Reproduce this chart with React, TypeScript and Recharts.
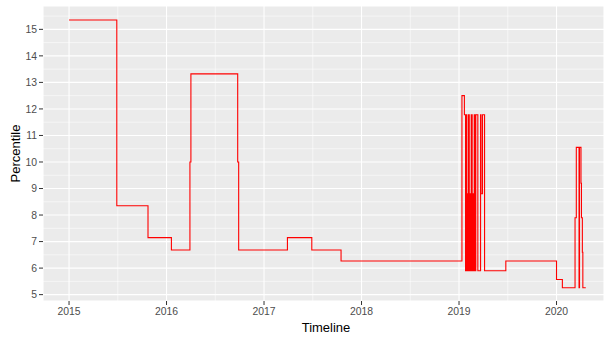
import { LineChart, Line, XAxis, YAxis, CartesianGrid, ReferenceLine } from "recharts";

// decimal year of each change in percentile (step series)
const dates = [
  2015.0, 2015.49, 2015.81, 2016.05, 2016.24, 2016.25, 2016.73, 2016.74,
  2017.24, 2017.49, 2017.79,
  2019.03, 2019.055, 2019.067, 2019.075, 2019.08, 2019.085, 2019.09, 2019.097,
  2019.105, 2019.11, 2019.115, 2019.125, 2019.135, 2019.142, 2019.15, 2019.156,
  2019.165, 2019.172, 2019.193, 2019.221, 2019.226, 2019.241, 2019.262,
  2019.48, 2020.0, 2020.06,
  2020.19, 2020.203, 2020.231, 2020.236, 2020.251, 2020.256, 2020.265, 2020.27, 2020.3,
];
const percentile = [
  15.35, 8.35, 7.15, 6.68, 10.0, 13.32, 10.0, 6.68,
  7.15, 6.68, 6.27,
  12.5, 11.78, 5.9, 11.78, 5.9, 8.8, 5.9, 11.78,
  5.9, 8.8, 5.9, 11.78, 5.9, 8.8, 5.9, 11.78,
  5.9, 11.78, 5.9, 11.78, 8.8, 11.78, 5.9,
  6.27, 5.57, 5.26,
  7.9, 10.55, 5.26, 10.55, 9.2, 7.9, 6.6, 5.26, 5.26,
];

const yearTicks = [2015, 2016, 2017, 2018, 2019, 2020];
const percentileTicks = [5, 6, 7, 8, 9, 10, 11, 12, 13, 14, 15];
const minorYears = [2015.5, 2016.5, 2017.5, 2018.5, 2019.5];
const minorPercentiles = [5.5, 6.5, 7.5, 8.5, 9.5, 10.5, 11.5, 12.5, 13.5, 14.5, 15.5];

const data = dates.map((d, i) => ({ date: d, percentile: percentile[i] }));

const font = "'Liberation Sans', Arial, sans-serif";
const tickStyle = { fill: "#4D4D4D", fontSize: 10.4, fontFamily: font };

export default function App() {
  return (
    <div>
      <style>{"body{margin:0}"}</style>
      <LineChart
        width={606}
        height={337}
        data={data}
        margin={{ top: 6, right: 2, bottom: 0, left: 0 }}
      >
        <CartesianGrid fill="#EBEBEB" fillOpacity={1} stroke="#FFFFFF" strokeWidth={1.1} />
        {minorYears.map((v) => (
          <ReferenceLine key={"mx" + v} x={v} stroke="#FFFFFF" strokeWidth={0.55} />
        ))}
        {minorPercentiles.map((v) => (
          <ReferenceLine key={"my" + v} y={v} stroke="#FFFFFF" strokeWidth={0.55} />
        ))}
        <XAxis
          type="number"
          dataKey="date"
          domain={[2014.733, 2020.487]}
          allowDataOverflow
          ticks={yearTicks}
          height={36}
          axisLine={false}
          tickLine={{ stroke: "#333333" }}
          tickSize={4}
          tickMargin={3}
          tick={tickStyle}
          label={{
            value: "Timeline",
            content: ({ viewBox }: any) => (
              <text
                x={viewBox.x + viewBox.width / 2 + 2.5}
                y={viewBox.y + 26}
                textAnchor="middle"
                dominantBaseline="central"
                fontSize={13}
                fontFamily={font}
                fill="#000000"
              >
                Timeline
              </text>
            ),
          }}
        />
        <YAxis
          type="number"
          domain={[4.76, 15.88]}
          allowDataOverflow
          ticks={percentileTicks}
          width={43}
          axisLine={false}
          tickLine={{ stroke: "#333333" }}
          tickSize={4}
          tickMargin={2}
          tick={tickStyle}
          label={{
            value: "Percentile",
            content: ({ viewBox }: any) => {
              const cx = viewBox.x + 15.5;
              const cy = viewBox.y + viewBox.height / 2;
              return (
                <text
                  x={cx}
                  y={cy}
                  transform={`rotate(-90 ${cx} ${cy})`}
                  textAnchor="middle"
                  dominantBaseline="central"
                  fontSize={13}
                  fontFamily={font}
                  fill="#000000"
                >
                  Percentile
                </text>
              );
            },
          }}
        />
        <Line
          dataKey="percentile"
          type="stepAfter"
          stroke="#FF0000"
          strokeWidth={1.1}
          dot={false}
          activeDot={false}
          isAnimationActive={false}
        />
      </LineChart>
    </div>
  );
}
